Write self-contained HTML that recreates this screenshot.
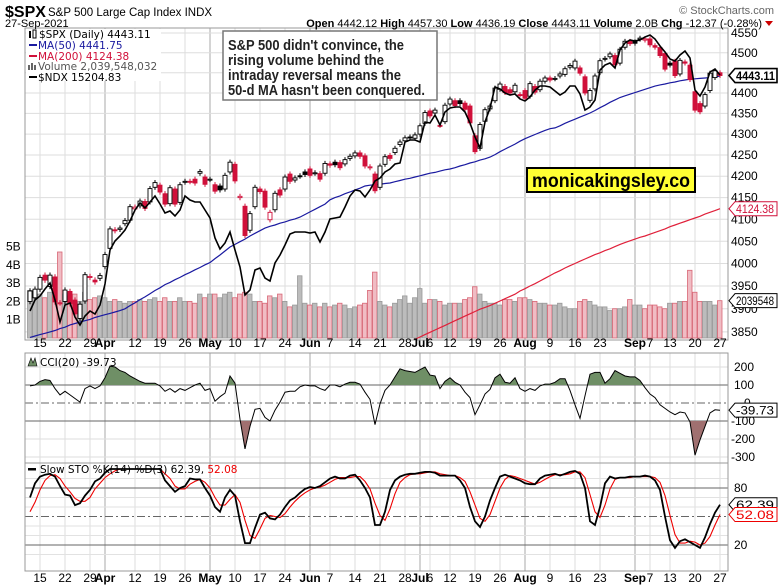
<!DOCTYPE html>
<html><head><meta charset="utf-8"><style>
html,body{margin:0;padding:0;background:#fff;}
svg{display:block;font-family:"Liberation Sans",sans-serif;}
.ax{font-size:12px;fill:#000;font-family:"Liberation Sans",sans-serif;}
.lg{font-size:10.5px;font-family:"DejaVu Sans","Liberation Sans",sans-serif;}
</style></head><body>
<svg id="chart" width="779" height="587" viewBox="0 0 779 587" xmlns="http://www.w3.org/2000/svg">
<defs>
<clipPath id="clipP"><rect x="25" y="28" width="703" height="312"/></clipPath>
<clipPath id="clipC"><rect x="25" y="353" width="703" height="110"/></clipPath>
<clipPath id="clipS"><rect x="25" y="463" width="703" height="108"/></clipPath>
<clipPath id="clipAbove"><rect x="25" y="353" width="703" height="32"/></clipPath>
<clipPath id="clipBelow"><rect x="25" y="421" width="703" height="42"/></clipPath>
</defs>
<rect x="0" y="0" width="779" height="587" fill="#fff"/>
<g id="grid"></g>
<g id="vol" clip-path="url(#clipP)"></g>
<g id="ma" clip-path="url(#clipP)"></g>
<g id="candles" clip-path="url(#clipP)"></g>
<g id="ndx" clip-path="url(#clipP)"></g>
<g id="cci"></g>
<g id="sto"></g>
<g id="axes"></g>

<g>
<text x="5" y="17" font-size="16" font-weight="bold">$SPX</text>
<text x="48" y="16" font-size="11.5">S&amp;P 500 Large Cap Index INDX</text>
<text x="774" y="14" font-size="11" fill="#666" text-anchor="end">© StockCharts.com</text>
<text x="5" y="27" font-size="11">27-Sep-2021</text>
<text x="762" y="27" font-size="11" text-anchor="end"><tspan font-weight="bold">Open</tspan> 4442.12 <tspan font-weight="bold">High</tspan> 4457.30 <tspan font-weight="bold">Low</tspan> 4436.19 <tspan font-weight="bold">Close</tspan> 4443.11 <tspan font-weight="bold">Volume</tspan> 2.0B <tspan font-weight="bold">Chg</tspan> -12.37 (-0.28%)</text>
<polygon points="765,21 773,21 769,26" fill="#c00"/>
</g>

<g>
<rect x="26" y="29" width="135" height="52" fill="#fff"/>
<rect x="29" y="31" width="2" height="7" fill="#000"/><rect x="33" y="30" width="3" height="8" fill="none" stroke="#000" stroke-width="1"/>
<text x="39" y="38" class="lg">$SPX (Daily) 4443.11</text>
<rect x="29" y="44" width="8" height="2" fill="#1a1aa0"/>
<text x="38" y="49" class="lg" fill="#1a1aa0">MA(50) 4441.75</text>
<rect x="29" y="55" width="8" height="2" fill="#d0103a"/>
<text x="38" y="60" class="lg" fill="#d0103a">MA(200) 4124.38</text>
<rect x="28" y="65" width="2" height="5" fill="#666"/><rect x="31" y="63" width="2" height="7" fill="#666"/><rect x="34" y="65" width="2" height="5" fill="#666"/>
<text x="38" y="70" class="lg" fill="#555">Volume 2,039,548,032</text>
<rect x="29" y="76" width="8" height="2" fill="#000"/>
<text x="38" y="81" class="lg">$NDX 15204.83</text>
</g>

<g>
<rect x="223" y="31" width="214" height="69" fill="#fff" stroke="#777" stroke-width="1.5"/>
<g font-size="14.5" font-weight="bold" fill="#222" font-family="'Liberation Sans Narrow','Liberation Sans',sans-serif">
<text x="228" y="50" textLength="176" lengthAdjust="spacingAndGlyphs">S&amp;P 500 didn't convince, the</text>
<text x="228" y="65" textLength="156" lengthAdjust="spacingAndGlyphs">rising volume behind the</text>
<text x="228" y="80" textLength="173" lengthAdjust="spacingAndGlyphs">intraday reversal means the</text>
<text x="228" y="95" textLength="197" lengthAdjust="spacingAndGlyphs">50-d MA hasn't been conquered.</text>
</g></g>

<g>
<rect x="527" y="168" width="168" height="24" fill="#ffff33" stroke="#000" stroke-width="2"/>
<text x="611" y="187" font-size="19" font-weight="bold" text-anchor="middle" textLength="158" lengthAdjust="spacingAndGlyphs">monicakingsley.co</text>
</g>

<g>
<polygon points="28,366 31,358 33,363 35,358 37,366" fill="#6f8f66" stroke="#000" stroke-width="0.6"/>
<text x="40" y="366" class="lg">CCI(20) -39.73</text>
</g>
<g>
<rect x="28" y="468" width="8" height="2.5" fill="#000"/>
<text x="40" y="473" class="lg">Slow STO %K(14) %D(3) 62.39, <tspan fill="#e00">52.08</tspan></text>
</g>
</svg>
<script>
const closes=[3939,3943,3969,3963,3974,3915,3913,3941,3911,3889,3910,3975,3971,3959,3973,
4020,4078,4074,4080,4097,4129,4128,4142,4125,4171,4185,4163,4135,4173,4135,4180,4188,4187,4184,4211,4181,
4193,4165,4168,4202,4233,4189,4153,4063,4113,4174,4164,4128,4116,4160,4156,4198,4188,4196,4200,4204,
4202,4208,4193,4230,4226,4227,4220,4239,4247,4255,4247,4224,4222,4166,4224,4246,4242,4266,4281,4291,4292,4298,
4320,4352,4344,4358,4321,4370,4385,4369,4374,4360,4327,4258,4323,4359,4368,4412,4422,4401,4400,4419,4395,
4387,4423,4402,4429,4437,4432,4436,4447,4460,4468,4479,4449,4400,4406,4442,4480,4486,4497,4470,4509,4529,4523,
4524,4537,4535,4520,4514,4493,4459,4469,4443,4481,4474,4433,4358,4354,4396,4449,4455,4443.11];
const opens=[3916,3924,3943,3974,3949,3970,3913,3916,3938,3919,3879,3917,3969,3963,3967,
3993,4034,4076,4077,4090,4098,4124,4131,4141,4140,4174,4179,4159,4136,4170,4139,4186,4188,4193,4207,4198,
4192,4180,4177,4170,4210,4228,4150,4130,4075,4129,4170,4165,4099,4122,4168,4170,4205,4191,4201,4210,
4217,4207,4206,4207,4229,4233,4232,4229,4242,4248,4255,4248,4220,4205,4174,4228,4249,4256,4275,4284,4293,4290,
4300,4326,4356,4351,4321,4330,4373,4381,4381,4375,4368,4296,4266,4331,4361,4381,4409,4416,4408,4403,4396,
4406,4392,4416,4408,4429,4437,4435,4442,4446,4464,4462,4462,4440,4382,4410,4450,4484,4490,4493,4474,4514,4529,
4528,4534,4532,4535,4518,4513,4498,4474,4479,4447,4477,4469,4403,4374,4368,4406,4438,4450];
const ndxValues=[12845,12955,12995,13065,13125,12955,12735,12905,12925,12785,12705,12795,12845,12815,12905,
13115,13455,13545,13595,13655,13745,13855,13925,13875,13935,13995,13915,13825,13845,13795,13855,13995,13955,13935,13935,13855,
13775,13575,13465,13525,13635,13455,13285,13005,13055,13255,13275,13175,13145,13325,13405,13505,13615,13635,13635,13635,
13625,13635,13535,13635,13765,13775,13785,13885,13995,14055,14045,13985,14055,14145,14175,14235,14265,14315,14325,14535,14555,14555,
14535,14735,14725,14805,14705,14835,14875,14885,14885,14835,14725,14585,14475,14735,14875,15085,15065,15025,15005,15015,14965,
14945,14985,15055,15095,15095,15085,15045,15005,15035,15095,15095,15015,14855,14885,14955,15255,15305,15325,15275,15455,15525,15555,
15545,15555,15585,15605,15565,15495,15435,15365,15345,15405,15445,15375,15055,14995,15085,15235,15265,15204.83];
const ma50=[3838,3841,3844,3847,3850,3853,3857,3860,
3865,3868,3871,3874,3877,3881,3884,3887,3890,3893,3896,3900,
3907,3913,3920,3926,3933,3940,3946,3953,
3958,3964,3969,3975,3980,3986,3991,3997,4002,
4011,4019,4028,4037,
4043,4049,4055,4062,4068,4074,4080,
4084,4087,4091,4094,4098,4101,4105,
4111,4117,4123,4129,4135,4145,
4150,4154,4159,4163,4168,4172,4177,
4179,4180,4181,4183,4184,
4187,4190,4193,4195,4198,4201,4204,4207,4209,4212,4215,4217,4220,
4224,4227,4231,4234,4238,4241,4245,
4251,4258,4264,4270,4276,4283,
4289,4294,4299,4304,4309,4313,4315,
4320,4326,4331,4336,4341,4346,4351,
4357,4364,4370,4377,4383,4389,
4393,4397,4401,4405,4409,4413,4417,
4420,4422,4425,4427,4430,4432,4434,
4435,4436,4437,4438,4440,4441.75];
const ma200Start=76;
const ma200=[3829,3834,3839,3844,3849,3854,3859,3864,3869,3874,3879,3884,3889,3894,3899,3903,3907,3912,3917,3922,3927,3932,3939,
3944,3950,3955,3961,3967,3973,3979,3984,3990,3995,4000,4005,4010,4015,4020,4024,4029,4033,4038,4043,4047,4051,4055,4059,4062,4066,4070,4074,4078,4083,4087,4091,4095,4099,4103,4107,4112,4116,4120,4124.38];
const volumeB=[2.6,2.6,2.4,2.2,2.5,2.6,4.7,2.4,2.3,2.4,2.0,2.5,2.1,2.2,2.3,
2.2,2.0,2.1,2.0,1.9,2.0,2.0,2.1,2.0,2.1,2.2,2.0,2.2,2.0,2.0,2.2,2.0,2.0,1.9,2.4,2.2,
2.4,2.4,2.2,2.4,2.5,2.2,2.4,2.5,2.4,2.0,2.0,1.9,2.3,2.2,2.4,2.0,1.7,1.8,3.4,1.9,
1.8,1.9,1.7,1.9,1.7,1.8,1.9,1.8,1.6,1.7,1.8,1.9,2.6,3.6,2.0,1.8,1.7,1.9,2.1,2.3,1.9,2.2,
2.7,1.9,2.1,2.1,2.0,1.8,1.9,1.9,1.9,2.1,2.2,2.8,2.4,2.0,1.9,1.9,1.8,2.1,2.1,2.0,2.2,
2.2,2.1,2.0,1.9,1.9,1.8,1.8,1.9,1.7,1.6,1.6,2.0,2.1,2.0,1.8,1.7,1.7,1.5,1.6,1.6,1.7,2.1,
1.8,1.8,1.6,1.8,1.8,1.7,1.6,1.9,1.9,2.0,2.0,3.7,2.5,2.0,2.0,2.0,1.8,2.04];
const cciValues=[95,100,120,130,125,80,45,65,45,25,5,80,95,80,95,
140,205,200,180,170,150,135,120,110,110,110,95,65,80,60,80,70,85,100,110,70,
80,10,35,55,150,110,-90,-255,-130,-35,-30,-80,-100,-40,5,60,65,65,90,100,
95,95,80,70,100,100,90,105,115,115,105,60,20,-120,-5,70,100,145,190,180,175,170,
185,200,155,150,80,120,140,115,100,60,30,-65,-10,50,75,140,160,115,110,140,80,
65,80,70,95,105,105,115,135,135,70,-10,-85,40,160,170,170,110,135,180,165,150,145,
145,125,85,50,30,-10,-30,-50,-65,-50,-55,-105,-290,-205,-130,-55,-38,-39.73];
const stoK=[70,85,92,94,95,92,82,73,72,62,64,72,78,87,90,
96,100,100,100,100,100,100,100,100,100,100,100,88,82,76,80,82,90,89,89,80,
72,60,55,70,78,72,45,22,22,38,52,54,48,47,52,60,67,70,75,79,
81,80,82,86,90,92,90,90,93,94,88,80,70,41,41,55,78,88,92,94,95,95,
96,97,97,96,93,93,93,93,88,80,60,45,39,50,67,80,92,94,92,90,88,
85,84,84,90,93,94,95,93,95,97,98,95,80,45,41,60,85,92,90,91,91,92,
92,92,93,92,88,78,50,25,17,24,26,23,20,17,28,42,54,62.39];
const stoD=[55,65,78,88,93,94,90,82,76,69,66,66,70,79,85,
91,95,98,100,100,100,100,100,100,100,100,100,95,90,82,79,79,84,87,89,86,
80,70,62,62,68,73,65,46,30,27,37,48,51,50,49,53,60,66,71,75,
78,80,81,83,86,89,91,91,91,92,92,87,79,64,51,46,58,74,86,91,94,95,
95,96,97,97,95,94,93,93,91,87,76,62,48,45,52,66,80,89,93,92,90,
88,86,84,86,89,92,94,94,94,95,97,97,91,73,55,49,62,79,89,91,91,91,
92,92,92,92,91,86,72,51,31,22,22,24,23,20,22,29,41,52.08];
const priceTicks=[3850,3900,3950,4000,4050,4100,4150,4200,4250,4300,4350,4400,4450,4500,4550];
const priceTickLabels=["3850","3900","3950","4000","4050","4100","4150","4200","4250","4300","4350","4400","","4500","4550"];
const volTicks=[1,2,3,4,5];
const volTickLabels=["1B","2B","3B","4B","5B"];
const cciTicks=[200,100,0,-100,-200,-300];
const stoTicks=[80,20];
const dateLabels=['15','22','29','Apr','12','19','26','May','10','17','24','Jun','7','14','21','28','Jul','6','12','19','26','Aug','9','16','23','Sep','7','13','20','27'];
const dateIdx=[2,7,12,15,21,26,31,36,41,46,51,56,60,65,70,75,78,80,84,89,94,99,104,109,114,121,124,128,133,138];

const NS='http://www.w3.org/2000/svg';
const xOf=i=>30+5*i;
const yP=p=>33+Math.log(4550/p)*1789;
const yV=b=>338-b*18.3;
const yN=v=>(15955-v)/10;
const yC=c=>403-c*0.18;
const yS=s=>564-s*0.95;
function mk(tag,attrs,parent){const e=document.createElementNS(NS,tag);for(const k in attrs)e.setAttribute(k,attrs[k]);parent.appendChild(e);return e;}
const G=id=>document.getElementById(id);
const grid=G('grid'),axes=G('axes');

[[28,340],[353,463],[463,571]].forEach(([t,b])=>{
  dateIdx.forEach((di,k)=>{
    const month=/^[A-Z]/.test(dateLabels[k]);
    const l=mk('line',{x1:xOf(di),x2:xOf(di),y1:t,y2:b,stroke:month?'#aaa':'#ddd','stroke-width':1},grid);
    
    
  });
});
priceTicks.forEach((p,k)=>{
  const y=yP(p);
  const l=mk('line',{x1:25,x2:728,y1:y,y2:y,stroke:'#ddd'},grid);
  
  
  if(priceTickLabels[k]){const t=mk('text',{x:731,y:y+4,class:'ax'},axes);t.textContent=priceTickLabels[k];
  
  }
});
volTicks.forEach((v,k)=>{
  const t=mk('text',{x:6,y:yV(v)+4,class:'ax'},axes);t.textContent=volTickLabels[k];
  
  
});
[200,-200,-300].forEach(c=>{const l=mk('line',{x1:25,x2:728,y1:yC(c),y2:yC(c),stroke:'#ddd'},grid);
  
  });
[100,-100].forEach(c=>{const l=mk('line',{x1:25,x2:728,y1:yC(c),y2:yC(c),stroke:'#666'},grid);
  
  });
{const l=mk('line',{x1:25,x2:728,y1:yC(0),y2:yC(0),stroke:'#666','stroke-dasharray':'8,3,2,3'},grid);
  
  }
[90,70,60,40,30,10].forEach(s=>{const l=mk('line',{x1:25,x2:728,y1:yS(s),y2:yS(s),stroke:'#e2e2e2'},grid);
  
  });
stoTicks.forEach(s=>{const l=mk('line',{x1:25,x2:728,y1:yS(s),y2:yS(s),stroke:'#666'},grid);
  
  
  const t=mk('text',{x:734,y:yS(s)+4,class:'ax'},axes);t.textContent=String(s);
  
  });
{const l=mk('line',{x1:25,x2:728,y1:yS(50),y2:yS(50),stroke:'#666','stroke-dasharray':'8,3,2,3'},grid);
  
  }
cciTicks.forEach(c=>{const t=mk('text',{x:(c===0?744:(c<0?731:734)),y:yC(c)+4,class:'ax'},axes);t.textContent=String(c);
  
  });
[[25,28,703,312],[25,353,703,110],[25,463,703,108]].forEach(r=>{
  const b=mk('rect',{x:r[0],y:r[1],width:r[2],height:r[3],fill:'none',stroke:'#999'},axes);
  
  
});
[347,582].forEach(yy=>{
  dateIdx.forEach((di,k)=>{
    const month=/^[A-Z]/.test(dateLabels[k]);
    const t=mk('text',{x:xOf(di),y:yy,class:'ax','text-anchor':'middle','font-weight':month?'bold':'normal','font-size':month?'12':'11.5'},axes);
    t.textContent=dateLabels[k];
    
    
  });
});

const vol=G('vol');
volumeB.forEach((v,i)=>{
  const down=i>0&&closes[i]<closes[i-1];
  const y=yV(v);
  const r=mk('rect',{x:xOf(i)-2.5,y:y,width:4.5,height:338-y,fill:down?'#f0bcc4':'#bcbcbc',stroke:down?'#d86676':'#999','stroke-width':0.8},vol);
  
  
});
const ma=G('ma');
{const p=mk('path',{d:ma50.map((v,i)=>(i?'L':'M')+xOf(i)+','+yP(v).toFixed(1)).join(''),fill:'none',stroke:'#1a1aa0','stroke-width':1.2},ma);

}
{const p=mk('path',{d:ma200.map((v,i)=>(i?'L':'M')+xOf(i+ma200Start)+','+yP(v).toFixed(1)).join(''),fill:'none',stroke:'#e0203a','stroke-width':1.2},ma);

}
const cg=G('candles');
closes.forEach((c,i)=>{
  const o=opens[i];
  const down=i>0&&c<closes[i-1];
  const col=down?'#d0103a':'#000';
  const hi=Math.max(o,c)+6, lo=Math.min(o,c)-6;
  const x=xOf(i);
  const w=mk('line',{x1:x,x2:x,y1:yP(hi),y2:yP(lo),stroke:col,'stroke-width':1},cg);
  
  
  const top=yP(Math.max(o,c)),bot=yP(Math.min(o,c));
  const b=mk('rect',{x:x-2,y:top,width:4,height:Math.max(1,bot-top),fill:c<o?col:'#fff',stroke:col,'stroke-width':0.9},cg);
  
  
});
{const p=mk('path',{d:ndxValues.map((v,i)=>(i?'L':'M')+xOf(i)+','+yN(v).toFixed(1)).join(''),fill:'none',stroke:'#000','stroke-width':1.6},G('ndx'));

}

const cg2=G('cci');
const cciPts=cciValues.map((v,i)=>xOf(i)+','+yC(v).toFixed(1));
{const a=mk('polygon',{points:xOf(0)+','+yC(100)+' '+cciPts.join(' ')+' '+xOf(cciValues.length-1)+','+yC(100),fill:'#6f8f66','clip-path':'url(#clipAbove)'},cg2);

}
{const a=mk('polygon',{points:xOf(0)+','+yC(-100)+' '+cciPts.join(' ')+' '+xOf(cciValues.length-1)+','+yC(-100),fill:'#a07070','clip-path':'url(#clipBelow)'},cg2);

}
{const p=mk('polyline',{points:cciPts.join(' '),fill:'none',stroke:'#000','stroke-width':1,'clip-path':'url(#clipC)'},cg2);

}
const sg=G('sto');
{const p=mk('polyline',{points:stoD.map((v,i)=>xOf(i)+','+yS(v).toFixed(1)).join(' '),fill:'none',stroke:'#e00','stroke-width':1.1,'clip-path':'url(#clipS)'},sg);

}
{const p=mk('polyline',{points:stoK.map((v,i)=>xOf(i)+','+yS(v).toFixed(1)).join(' '),fill:'none',stroke:'#000','stroke-width':1.8,'clip-path':'url(#clipS)'},sg);

}

function tag(y,txt,col,bold,name){
  const g=mk('g',{},axes);
  
  
  mk('polygon',{points:`729,${y} 735,${y-7} 777,${y-7} 777,${y+7} 735,${y+7}`,fill:'#fff',stroke:col,'stroke-width':bold?1.6:1},g);
  const t=mk('text',{x:736,y:y+4.5,fill:col,'font-weight':bold?'bold':'normal','font-size':bold?'12':'11.5','font-family':'Liberation Sans, sans-serif',textLength:bold?39:38,lengthAdjust:'spacingAndGlyphs'},g);
  t.textContent=txt;
}
tag(yP(closes[closes.length-1]),'4443.11','#000',true,'close-value-tag');
tag(yP(ma200[ma200.length-1]),'4124.38','#d0103a',false,'ma200-value-tag');
tag(yV(volumeB[volumeB.length-1]),'2039548','#000',false,'volume-value-tag');
tag(yC(cciValues[cciValues.length-1]),'-39.73','#000',false,'cci-value-tag');
tag(yS(stoK[stoK.length-1]),'62.39','#000',false,'sto-k-value-tag');
tag(yS(stoD[stoD.length-1]),'52.08','#e00',false,'sto-d-value-tag');
</script>
</body></html>
